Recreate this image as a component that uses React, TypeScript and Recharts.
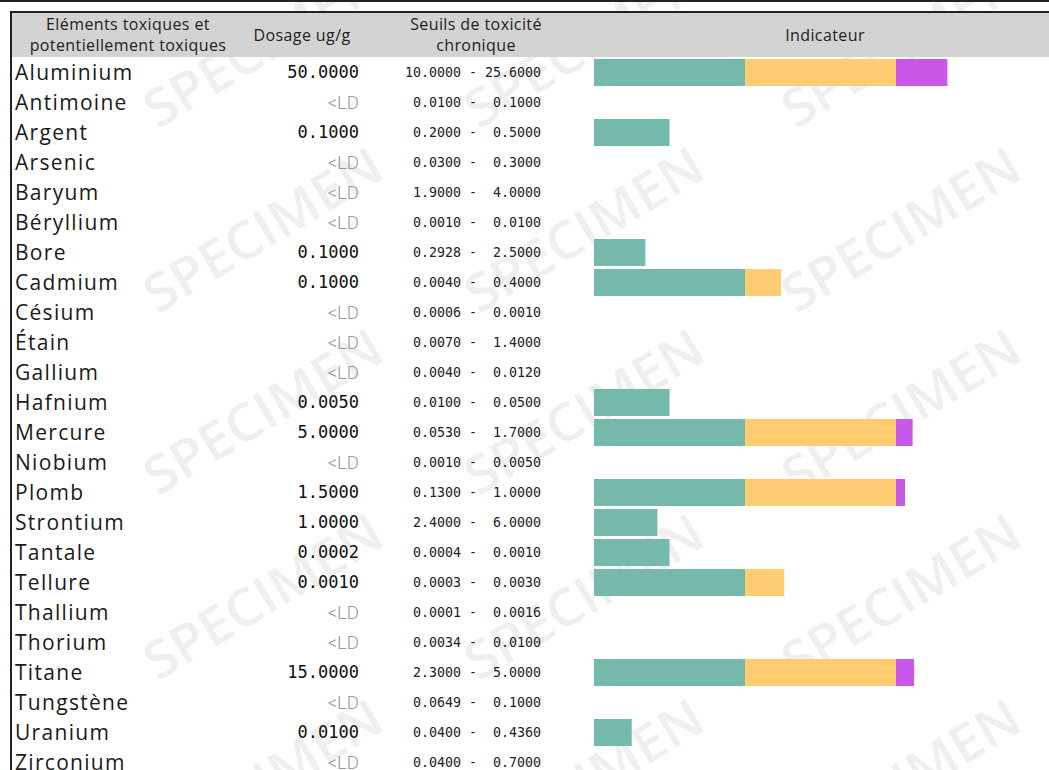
import { Bar, BarChart, XAxis, YAxis } from "recharts";

const elements = [
  "Aluminium", "Antimoine", "Argent", "Arsenic", "Baryum", "Béryllium",
  "Bore", "Cadmium", "Césium", "Étain", "Gallium", "Hafnium", "Mercure",
  "Niobium", "Plomb", "Strontium", "Tantale", "Tellure", "Thallium",
  "Thorium", "Titane", "Tungstène", "Uranium", "Zirconium",
];

const dosages = [
  "50.0000", "<LD", "0.1000", "<LD", "<LD", "<LD", "0.1000", "0.1000",
  "<LD", "<LD", "<LD", "0.0050", "5.0000", "<LD", "1.5000", "1.0000",
  "0.0002", "0.0010", "<LD", "<LD", "15.0000", "<LD", "0.0100", "<LD",
];

const seuilBas = [
  "10.0000", "0.0100", "0.2000", "0.0300", "1.9000", "0.0010", "0.2928",
  "0.0040", "0.0006", "0.0070", "0.0040", "0.0100", "0.0530", "0.0010",
  "0.1300", "2.4000", "0.0004", "0.0003", "0.0001", "0.0034", "2.3000",
  "0.0649", "0.0400", "0.0400",
];

const seuilHaut = [
  "25.6000", "0.1000", "0.5000", "0.3000", "4.0000", "0.0100", "2.5000",
  "0.4000", "0.0010", "1.4000", "0.0120", "0.0500", "1.7000", "0.0050",
  "1.0000", "6.0000", "0.0010", "0.0030", "0.0016", "0.0100", "5.0000",
  "0.1000", "0.4360", "0.7000",
];

// indicator segments (1 = one full zone)
const zoneVerte = [1, 0, 0.5, 0, 0, 0, 0.34, 1, 0, 0, 0, 0.5, 1, 0, 1, 0.42, 0.5, 1, 0, 0, 1, 0, 0.25, 0];
const zoneJaune = [1, 0, 0, 0, 0, 0, 0, 0.24, 0, 0, 0, 0, 1, 0, 1, 0, 0, 0.26, 0, 0, 1, 0, 0, 0];
const zoneViolette = [0.34, 0, 0, 0, 0, 0, 0, 0, 0, 0, 0, 0, 0.11, 0, 0.06, 0, 0, 0, 0, 0, 0.12, 0, 0, 0];

const data = elements.map((name, i) => ({
  name,
  vert: zoneVerte[i],
  jaune: zoneJaune[i],
  violet: zoneViolette[i],
}));

const MONO = "'DejaVu Sans Mono', monospace";
const SANS = "'Open Sans', sans-serif";

function RowTick(props: any) {
  const { y, payload } = props;
  const i = payload.index;
  const dose = dosages[i];
  const ld = dose === "<LD";
  const seuil = `${seuilBas[i].padStart(7, " ")} - ${seuilHaut[i].padStart(7, " ")}`;
  return (
    <g>
      <text x={15} y={y} dy="0.36em" fontSize={21} letterSpacing={1.3} fontFamily={SANS} fill="#1a1a1a">
        {payload.value}
      </text>
      <text
        x={359}
        y={y}
        dy="0.36em"
        textAnchor="end"
        fontSize={ld ? 18.5 : 17}
        fontFamily={ld ? "Roboto, sans-serif" : MONO}
        fontWeight={ld ? 300 : 400}
        fill={ld ? "#9a9a9a" : "#111"}
      >
        {dose}
      </text>
      <text
        x={541}
        y={y}
        dy="0.36em"
        textAnchor="end"
        fontSize={13.3}
        fontFamily={MONO}
        fill="#222"
        style={{ whiteSpace: "pre" }}
      >
        {seuil}
      </text>
    </g>
  );
}

function Watermarks() {
  const cols = [262, 583, 900];
  const rows = [43, 228, 410, 595, 780];
  return (
    <svg width={1049} height={770} style={{ position: "absolute", left: 0, top: 0 }}>
      {rows.map((y) =>
        cols.map((x) => (
          <text
            key={`${x}-${y}`}
            x={x}
            y={y}
            textAnchor="middle"
            dominantBaseline="central"
            transform={`rotate(-31 ${x} ${y})`}
            fontSize={52}
            fontFamily={SANS}
            fontWeight={600}
            fill="#efefef"
            textLength={268}
            lengthAdjust="spacingAndGlyphs"
          >
            SPECIMEN
          </text>
        ))
      )}
    </svg>
  );
}

const headCell: React.CSSProperties = {
  position: "absolute",
  top: 0,
  height: 44,
  display: "flex",
  alignItems: "center",
  justifyContent: "center",
  textAlign: "center",
  fontFamily: SANS,
  fontSize: 16,
  letterSpacing: 0.4,
  lineHeight: "21px",
  color: "#222",
  whiteSpace: "nowrap",
};

export default function App() {
  return (
    <div
      style={{
        position: "absolute",
        left: 0,
        top: 0,
        width: 1049,
        height: 770,
        overflow: "hidden",
        background: "#fff",
      }}
    >
      <Watermarks />
      <div style={{ position: "absolute", left: 0, top: 0 }}>
        <BarChart
          width={1049}
          height={780}
          data={data}
          layout="vertical"
          margin={{ top: 57, right: 2, bottom: 3, left: 0 }}
        >
          <XAxis type="number" domain={[0, 3]} hide />
          <YAxis
            type="category"
            dataKey="name"
            width={594}
            axisLine={false}
            tickLine={false}
            interval={0}
            tick={<RowTick />}
          />
          <Bar dataKey="vert" stackId="a" fill="#74b9ab" barSize={27} isAnimationActive={false} />
          <Bar dataKey="jaune" stackId="a" fill="#fecc73" barSize={27} isAnimationActive={false} />
          <Bar dataKey="violet" stackId="a" fill="#c958e8" barSize={27} isAnimationActive={false} />
        </BarChart>
      </div>
      {/* borders */}
      <div style={{ position: "absolute", left: 0, top: 0, width: 1049, height: 2, background: "#222" }} />
      <div style={{ position: "absolute", left: 10, top: 11, width: 1039, height: 2, background: "#222" }} />
      <div style={{ position: "absolute", left: 10, top: 11, width: 2, height: 759, background: "#222" }} />
      {/* header */}
      <div style={{ position: "absolute", left: 12, top: 13, width: 1037, height: 44, background: "#d3d3d3" }}>
        <div style={{ ...headCell, left: 0, width: 232 }}>
          Eléments toxiques et
          <br />
          potentiellement toxiques
        </div>
        <div style={{ ...headCell, left: 220, width: 140 }}>Dosage ug/g</div>
        <div style={{ ...headCell, left: 389, width: 150 }}>
          Seuils de toxicité
          <br />
          chronique
        </div>
        <div style={{ ...headCell, left: 713, width: 200 }}>Indicateur</div>
      </div>
    </div>
  );
}
